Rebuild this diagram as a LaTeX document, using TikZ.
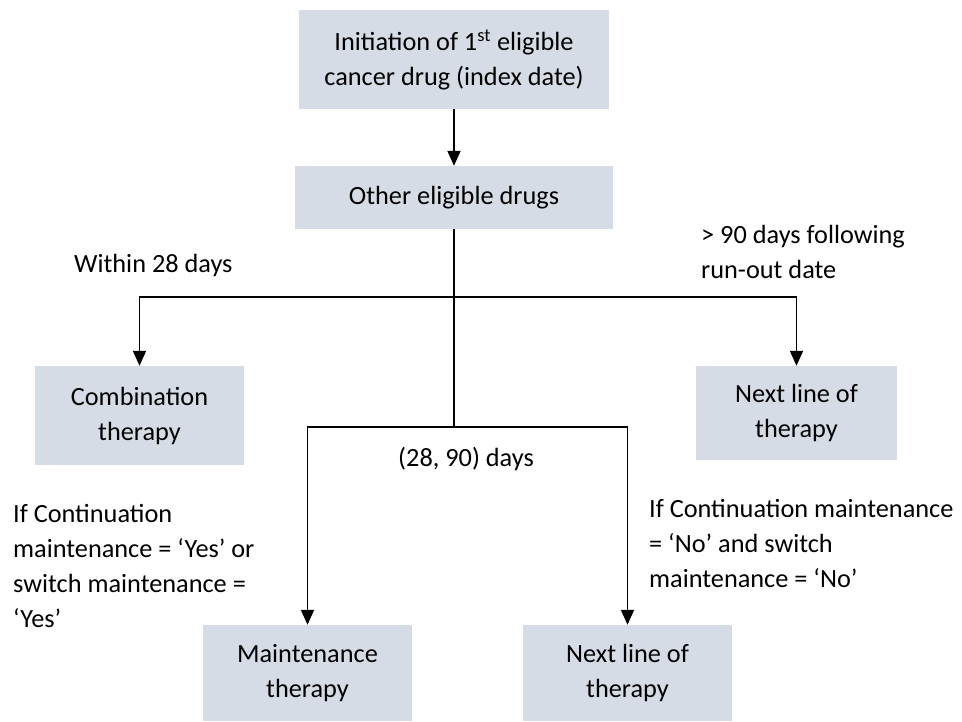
\documentclass[tikz,border=0pt]{standalone}
\usepackage{fontspec}
\setmainfont{Carlito}
\usetikzlibrary{arrows.meta}
\definecolor{boxfill}{HTML}{D6DCE5}
\tikzset{
  flowbox/.style={fill=boxfill, draw=none, inner sep=0pt, align=center,
    font=\fontsize{26.3}{35}\selectfont},
  lbl/.style={inner sep=0pt, align=left, font=\fontsize{26.3}{35}\selectfont},
  arr/.style={line width=1.8pt, -{Triangle[length=15pt,width=13pt]}},
  ln/.style={line width=1.8pt}
}
\begin{document}
\begin{tikzpicture}[x=1pt,y=-1pt]
\useasboundingbox (0,0) rectangle (962,721);
\node[flowbox, minimum width=310pt, minimum height=99pt] (top) at (454,59.5)
  {Initiation of 1\textsuperscript{st} eligible\\cancer drug (index date)};
\node[flowbox, minimum width=318pt, minimum height=63pt] (other) at (454,197.5)
  {Other eligible drugs};
\node[flowbox, minimum width=209pt, minimum height=99pt] (comb) at (139.5,415.5)
  {Combination\\therapy};
\node[flowbox, minimum width=201pt, minimum height=94pt] (next1) at (796.5,413)
  {Next line of\\therapy};
\node[flowbox, minimum width=209pt, minimum height=96pt] (maint) at (307.5,673)
  {Maintenance\\therapy};
\node[flowbox, minimum width=209pt, minimum height=96pt] (next2) at (627.5,673)
  {Next line of\\therapy};

\coordinate (j1) at (454,297);
\coordinate (j2) at (454,427);

\draw[arr] (top) -- (other);
\draw[ln] (other.south) -- (j2);
\draw[arr] (j1) -| (comb.north);
\draw[arr] (j1) -| (next1.north);
\draw[arr] (j2) -| (maint.north);
\draw[arr] (j2) -| (next2.north);

\node[lbl, anchor=base west] (l28) at (74,272) {Within 28 days};
\node[lbl, anchor=north west] (l90) at (701,221)
  {\rule{0pt}{22pt}> 90 days following\\run-out date};
\node[lbl, anchor=base west] (lmid) at (398,466) {(28, 90) days};
\node[lbl, anchor=north west] (lyes) at (13,500)
  {\rule{0pt}{22pt}If Continuation\\maintenance = ‘Yes’ or\\switch maintenance =\\‘Yes’};
\node[lbl, anchor=north west] (lno) at (649,495)
  {\rule{0pt}{22pt}If Continuation maintenance\\= ‘No’ and switch\\maintenance = ‘No’};
\end{tikzpicture}
\end{document}
